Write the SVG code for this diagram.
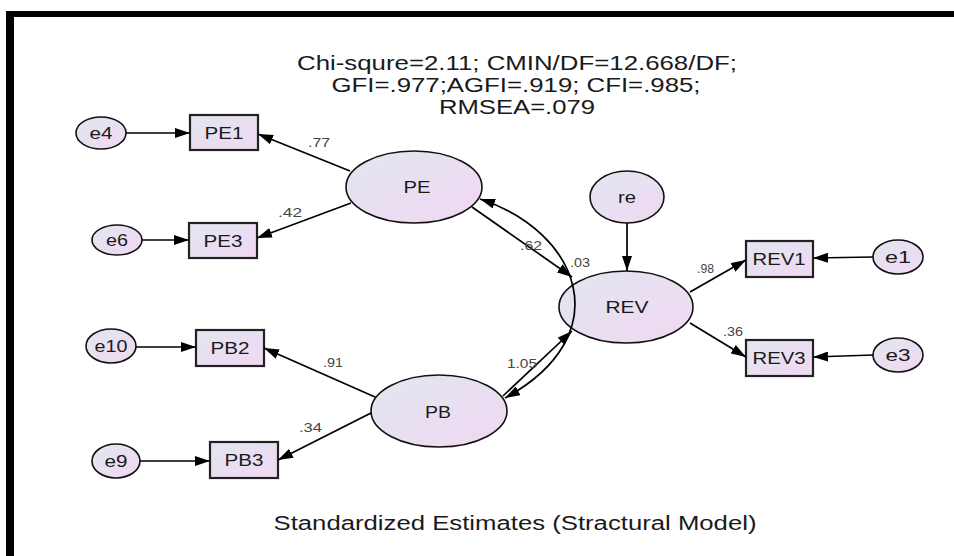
<svg xmlns="http://www.w3.org/2000/svg" width="954" height="556" viewBox="0 0 954 556">
  <defs>
    <linearGradient id="fillGrad" x1="0" y1="0" x2="1" y2="1">
      <stop offset="0" stop-color="#e2e6f0"/>
      <stop offset="1" stop-color="#f0d8f2"/>
    </linearGradient>
    <marker id="arrow" markerUnits="userSpaceOnUse" markerWidth="16" markerHeight="10" refX="15" refY="5" orient="auto-start-reverse">
      <path d="M0,0 L15,5 L0,10 Z" fill="#000"/>
    </marker>
    <style>
      .latent { fill: url(#fillGrad); stroke: #111; stroke-width: 1.6; }
      .obs { fill: url(#fillGrad); stroke: #222; stroke-width: 2.2; }
      .lbl { font-family: "Liberation Sans", Arial, sans-serif; font-size: 16px; fill: #1a1a1a; text-anchor: middle; }
      .coef { font-family: "Liberation Sans", Arial, sans-serif; font-size: 13px; fill: #444; }
      .head { font-family: "Liberation Sans", Arial, sans-serif; font-size: 20px; fill: #1a1a1a; text-anchor: middle; }
      .edge { fill: none; stroke: #000; stroke-width: 1.7; }
    </style>
  </defs>

  <rect width="954" height="556" fill="#fff"/>
  <!-- frame -->
  <rect x="6" y="11" width="948" height="6" fill="#000"/>
  <rect x="6" y="11" width="8" height="545" fill="#000"/>

  <!-- fit indices -->
  <g id="fit-indices">
    <text class="head" x="517" y="70" textLength="440" lengthAdjust="spacingAndGlyphs">Chi-squre=2.11; CMIN/DF=12.668/DF;</text>
    <text class="head" x="516" y="92" textLength="369" lengthAdjust="spacingAndGlyphs">GFI=.977;AGFI=.919; CFI=.985;</text>
    <text class="head" x="517" y="114" textLength="156" lengthAdjust="spacingAndGlyphs">RMSEA=.079</text>
  </g>

  <!-- nodes -->
  <g id="e4"><ellipse class="latent" cx="101" cy="133" rx="25" ry="16"/><text class="lbl" x="101" y="139" textLength="23" lengthAdjust="spacingAndGlyphs">e4</text></g>
  <g id="PE1"><rect class="obs" x="190" y="115" width="68" height="35"/><text class="lbl" x="224" y="139" textLength="39" lengthAdjust="spacingAndGlyphs">PE1</text></g>
  <g id="e6"><ellipse class="latent" cx="117" cy="240" rx="25" ry="15"/><text class="lbl" x="117" y="246" textLength="22" lengthAdjust="spacingAndGlyphs">e6</text></g>
  <g id="PE3"><rect class="obs" x="189" y="223" width="68" height="35"/><text class="lbl" x="223" y="247" textLength="39" lengthAdjust="spacingAndGlyphs">PE3</text></g>
  <g id="PE"><ellipse class="latent" cx="414" cy="187" rx="68" ry="36"/><text class="lbl" x="417" y="193" textLength="27" lengthAdjust="spacingAndGlyphs">PE</text></g>
  <g id="re"><ellipse class="latent" cx="627" cy="197" rx="37" ry="26"/><text class="lbl" x="627" y="203" textLength="18" lengthAdjust="spacingAndGlyphs">re</text></g>
  <g id="REV"><ellipse class="latent" cx="626" cy="307" rx="67" ry="36"/><text class="lbl" x="627" y="313" textLength="43" lengthAdjust="spacingAndGlyphs">REV</text></g>
  <g id="REV1"><rect class="obs" x="746" y="241" width="67" height="36"/><text class="lbl" x="779" y="265" textLength="53" lengthAdjust="spacingAndGlyphs">REV1</text></g>
  <g id="REV3"><rect class="obs" x="746" y="340" width="67" height="36"/><text class="lbl" x="779" y="364" textLength="53" lengthAdjust="spacingAndGlyphs">REV3</text></g>
  <g id="e1"><ellipse class="latent" cx="898" cy="257" rx="25" ry="17"/><text class="lbl" x="898" y="263" textLength="26" lengthAdjust="spacingAndGlyphs">e1</text></g>
  <g id="e3"><ellipse class="latent" cx="898" cy="355" rx="25" ry="17"/><text class="lbl" x="898" y="361" textLength="25" lengthAdjust="spacingAndGlyphs">e3</text></g>
  <g id="e10"><ellipse class="latent" cx="111" cy="346" rx="25" ry="17"/><text class="lbl" x="111" y="352" textLength="33" lengthAdjust="spacingAndGlyphs">e10</text></g>
  <g id="PB2"><rect class="obs" x="196" y="330" width="68" height="36"/><text class="lbl" x="230" y="354" textLength="39" lengthAdjust="spacingAndGlyphs">PB2</text></g>
  <g id="e9"><ellipse class="latent" cx="116" cy="461" rx="24" ry="17"/><text class="lbl" x="116" y="467" textLength="23" lengthAdjust="spacingAndGlyphs">e9</text></g>
  <g id="PB3"><rect class="obs" x="210" y="442" width="68" height="36"/><text class="lbl" x="244" y="466" textLength="39" lengthAdjust="spacingAndGlyphs">PB3</text></g>
  <g id="PB"><ellipse class="latent" cx="439" cy="411" rx="68" ry="36"/><text class="lbl" x="438" y="418" textLength="26" lengthAdjust="spacingAndGlyphs">PB</text></g>

  <!-- connectors -->
  <g id="connectors">
    <path class="edge" d="M126,133 L190,133" marker-end="url(#arrow)"/>
    <path class="edge" d="M142,240 L189,240" marker-end="url(#arrow)"/>
    <path class="edge" d="M136,347 L196,347" marker-end="url(#arrow)"/>
    <path class="edge" d="M140,461 L210,461" marker-end="url(#arrow)"/>
    <path class="edge" d="M873,257 L813,258" marker-end="url(#arrow)"/>
    <path class="edge" d="M873,355 L813,357" marker-end="url(#arrow)"/>
    <path class="edge" d="M350,171 L258,134" marker-end="url(#arrow)"/>
    <path class="edge" d="M351,203 L257,238" marker-end="url(#arrow)"/>
    <path class="edge" d="M472,207 L572,277" marker-end="url(#arrow)"/>
    <path class="edge" d="M503,396 L572,331" marker-end="url(#arrow)"/>
    <path class="edge" d="M480,199 C580,232 620,335 505,398" marker-start="url(#arrow)" marker-end="url(#arrow)"/>
    <path class="edge" d="M375,397 L264,348" marker-end="url(#arrow)"/>
    <path class="edge" d="M371,413 L278,460" marker-end="url(#arrow)"/>
    <path class="edge" d="M627,223 L627,271" marker-end="url(#arrow)"/>
    <path class="edge" d="M690,292 L746,260" marker-end="url(#arrow)"/>
    <path class="edge" d="M690,323 L746,357" marker-end="url(#arrow)"/>
  </g>

  <!-- path coefficients -->
  <g id="coefficients">
    <text class="coef" x="308" y="147" textLength="22" lengthAdjust="spacingAndGlyphs">.77</text>
    <text class="coef" x="278" y="217" textLength="24" lengthAdjust="spacingAndGlyphs">.42</text>
    <text class="coef" x="520" y="250" textLength="22" lengthAdjust="spacingAndGlyphs">.62</text>
    <text class="coef" x="570" y="267" textLength="20" lengthAdjust="spacingAndGlyphs">.03</text>
    <text class="coef" x="697" y="273" textLength="17" lengthAdjust="spacingAndGlyphs">.98</text>
    <text class="coef" x="723" y="336" textLength="20" lengthAdjust="spacingAndGlyphs">.36</text>
    <text class="coef" x="507" y="368" textLength="30" lengthAdjust="spacingAndGlyphs">1.05</text>
    <text class="coef" x="323" y="367" textLength="20" lengthAdjust="spacingAndGlyphs">.91</text>
    <text class="coef" x="299" y="432" textLength="23" lengthAdjust="spacingAndGlyphs">.34</text>
  </g>

  <!-- caption -->
  <text class="head" x="515" y="530" font-size="21" textLength="483" lengthAdjust="spacingAndGlyphs">Standardized Estimates (Stractural Model)</text>
</svg>
